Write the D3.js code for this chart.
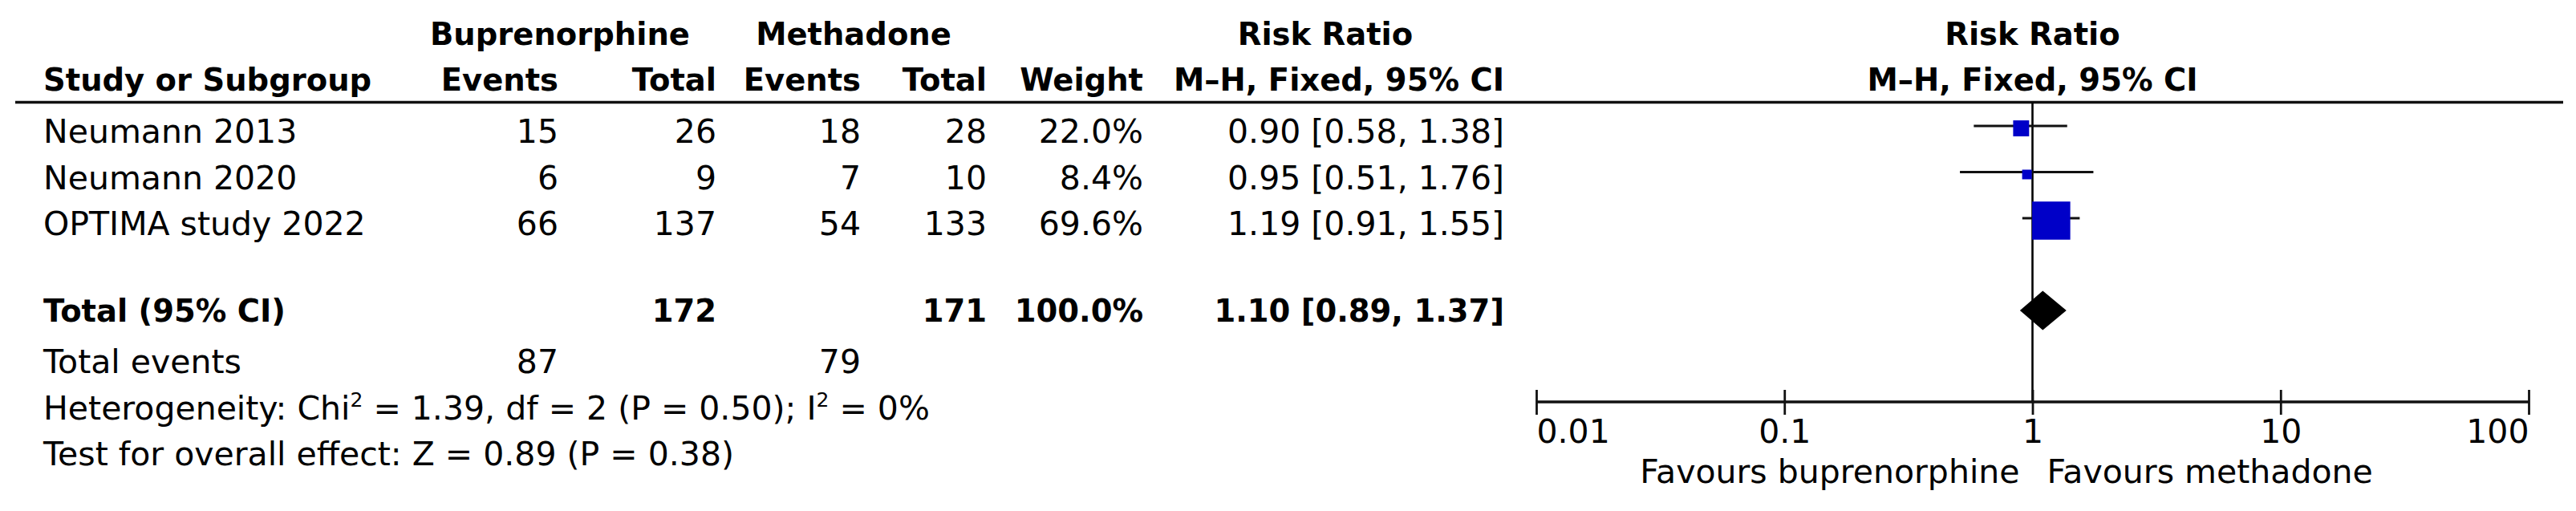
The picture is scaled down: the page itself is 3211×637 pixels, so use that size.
<!DOCTYPE html>
<html>
<head>
<meta charset="utf-8">
<script src="https://cdn.jsdelivr.net/npm/d3@7"></script>
<style>
  html, body { margin: 0; padding: 0; background: #ffffff; }
  svg { display: block; }
  text { font-family: "DejaVu Sans", "Liberation Sans", sans-serif; fill: #000; }
</style>
</head>
<body>
<div id="chart"></div>
<script>
// ---------------- data ----------------
const studies    = ["Neumann 2013", "Neumann 2020", "OPTIMA study 2022"];
const bupEvents  = [15, 6, 66];
const bupTotal   = [26, 9, 137];
const metEvents  = [18, 7, 54];
const metTotal   = [28, 10, 133];
const weights    = [22.0, 8.4, 69.6];
const riskRatio  = [0.90, 0.95, 1.19];
const ciLower    = [0.58, 0.51, 0.91];
const ciUpper    = [1.38, 1.76, 1.55];

const pooledLabel   = "Total (95% CI)";
const pooledBupN    = 172;
const pooledMetN    = 171;
const pooledWeight  = 100.0;
const pooledRR      = 1.10;
const pooledLower   = 0.89;
const pooledUpper   = 1.37;
const totalEventsBup = 87;
const totalEventsMet = 79;

const groupHeaders  = ["Buprenorphine", "Methadone", "Risk Ratio", "Risk Ratio"];
const columnHeaders = ["Study or Subgroup", "Events", "Total", "Events", "Total", "Weight", "M–H, Fixed, 95% CI", "M–H, Fixed, 95% CI"];
const tickValues    = [0.01, 0.1, 1, 10, 100];
const tickLabels    = ["0.01", "0.1", "1", "10", "100"];
const favoursLabels = ["Favours buprenorphine", "Favours methadone"];
const heterogeneity = {chi2: "1.39", df: "2", p: "0.50", i2: "0%"};
const overallEffect = {z: "0.89", p: "0.38"};

// ---------------- layout ----------------
const W = 3211, H = 637;
const FS = 41, FSB = 38.5;
const leftX = 54;
const colRight = [696, 893, 1073, 1230, 1425, 1875]; // right edges of numeric columns
const rowBase0 = 178, rowStep = 57.5;
const totalBase = 401;
const footBase = [465, 523, 580];
const headerBase = [56, 113];
const ruleY = 127.5;
const axisY = 501;

const fmtCI = (r, l, u) => `${r.toFixed(2)} [${l.toFixed(2)}, ${u.toFixed(2)}]`;

const svg = d3.select("#chart").append("svg")
  .attr("width", W).attr("height", H)
  .attr("viewBox", `0 0 ${W} ${H}`);

svg.append("rect").attr("width", W).attr("height", H).attr("fill", "#fff");

// scales
const x = d3.scaleLog().domain([0.01, 100]).range([1915, 3152]);
const yRow = d3.scalePoint().domain(studies).range([rowBase0, rowBase0 + rowStep * (studies.length - 1)]);
const boxSize = d3.scaleLinear().domain([d3.min(weights), d3.max(weights)]).range([12, 47.5]);

// ---------------- headers ----------------
const g1 = svg.append("g").attr("font-weight", "bold").attr("font-size", FSB);
const groupX = [698, 1064, 1652, (x.range()[0] + x.range()[1]) / 2];
groupHeaders.forEach((t, i) => {
  g1.append("text").attr("x", groupX[i]).attr("y", headerBase[0]).attr("text-anchor", "middle").text(t);
});
// second header row
g1.append("text").attr("x", leftX).attr("y", headerBase[1]).text(columnHeaders[0]);
colRight.forEach((cx, i) => {
  g1.append("text").attr("x", cx).attr("y", headerBase[1]).attr("text-anchor", "end").text(columnHeaders[i + 1]);
});
g1.append("text").attr("x", (x.range()[0] + x.range()[1]) / 2).attr("y", headerBase[1])
  .attr("text-anchor", "middle").text(columnHeaders[7]);

// header rule
svg.append("line").attr("x1", 19).attr("x2", 3195).attr("y1", ruleY).attr("y2", ruleY)
  .attr("stroke", "#111").attr("stroke-width", 3.5);

// ---------------- study rows ----------------
const gRows = svg.append("g").attr("font-size", FS);
studies.forEach((s, i) => {
  const y = yRow(s);
  const vals = [bupEvents[i], bupTotal[i], metEvents[i], metTotal[i],
                weights[i].toFixed(1) + "%", fmtCI(riskRatio[i], ciLower[i], ciUpper[i])];
  gRows.append("text").attr("x", leftX).attr("y", y).text(s);
  vals.forEach((v, j) => {
    gRows.append("text").attr("x", colRight[j]).attr("y", y).attr("text-anchor", "end").text(v);
  });
});

// pooled row (bold)
const gTot = svg.append("g").attr("font-size", FSB).attr("font-weight", "bold");
gTot.append("text").attr("x", leftX).attr("y", totalBase).text(pooledLabel);
[[1, pooledBupN], [3, pooledMetN], [4, pooledWeight.toFixed(1) + "%"],
 [5, fmtCI(pooledRR, pooledLower, pooledUpper)]].forEach(([j, v]) => {
  gTot.append("text").attr("x", colRight[j]).attr("y", totalBase).attr("text-anchor", "end").text(v);
});

// footer rows
const gFoot = svg.append("g").attr("font-size", FS);
gFoot.append("text").attr("x", leftX).attr("y", footBase[0]).text("Total events");
gFoot.append("text").attr("x", colRight[0]).attr("y", footBase[0]).attr("text-anchor", "end").text(totalEventsBup);
gFoot.append("text").attr("x", colRight[2]).attr("y", footBase[0]).attr("text-anchor", "end").text(totalEventsMet);

const het = gFoot.append("text").attr("x", leftX).attr("y", footBase[1]);
het.append("tspan").text("Heterogeneity: Chi");
het.append("tspan").attr("font-size", 25).attr("dy", -16).text("2");
het.append("tspan").attr("dy", 16).text(` = ${heterogeneity.chi2}, df = ${heterogeneity.df} (P = ${heterogeneity.p}); I`);
het.append("tspan").attr("font-size", 25).attr("dy", -16).text("2");
het.append("tspan").attr("dy", 16).text(` = ${heterogeneity.i2}`);

gFoot.append("text").attr("x", leftX).attr("y", footBase[2])
  .text(`Test for overall effect: Z = ${overallEffect.z} (P = ${overallEffect.p})`);

// ---------------- forest plot ----------------
const gPlot = svg.append("g");

// line of no effect
gPlot.append("line").attr("x1", x(1)).attr("x2", x(1)).attr("y1", ruleY).attr("y2", axisY)
  .attr("stroke", "#000").attr("stroke-width", 2.6);

// CIs and boxes
studies.forEach((s, i) => {
  const yc = yRow(s) - 21;
  gPlot.append("line").attr("x1", x(ciLower[i])).attr("x2", x(ciUpper[i]))
    .attr("y1", yc).attr("y2", yc).attr("stroke", "#111").attr("stroke-width", 3.2);
  const b = boxSize(weights[i]);
  gPlot.append("rect").attr("x", x(riskRatio[i]) - b / 2).attr("y", yc + 3 - b / 2)
    .attr("width", b).attr("height", b).attr("fill", "#0000c8");
});

// diamond
const dy = totalBase - 14, dh = 24.5;
gPlot.append("path")
  .attr("d", `M${x(pooledLower)},${dy} L${x(pooledRR)},${dy - dh} L${x(pooledUpper)},${dy} L${x(pooledRR)},${dy + dh} Z`)
  .attr("fill", "#000");

// axis
const axis = d3.axisBottom(x).tickValues(tickValues)
  .tickFormat((d, i) => tickLabels[i]).tickSizeOuter(0);
const gAxis = gPlot.append("g").attr("transform", `translate(0,${axisY})`).call(axis);
gAxis.select(".domain").attr("d", `M${x.range()[0]},0H${x.range()[1]}`)
  .attr("stroke", "#111").attr("stroke-width", 3.5);
gAxis.selectAll(".tick line").attr("y1", -15).attr("y2", 16).attr("stroke", "#111").attr("stroke-width", 2.8);
gAxis.selectAll(".tick text")
  .attr("font-family", "DejaVu Sans").attr("font-size", FS).attr("fill", "#000")
  .attr("y", 51).attr("dy", 0)
  .attr("text-anchor", (d, i) => i === 0 ? "start" : (i === tickValues.length - 1 ? "end" : "middle"));

// favours labels
gPlot.append("text").attr("x", x(1) - 16).attr("y", 602).attr("font-size", FS)
  .attr("text-anchor", "end").text(favoursLabels[0]);
gPlot.append("text").attr("x", x(1) + 18).attr("y", 602).attr("font-size", FS)
  .attr("text-anchor", "start").text(favoursLabels[1]);
</script>
</body>
</html>
